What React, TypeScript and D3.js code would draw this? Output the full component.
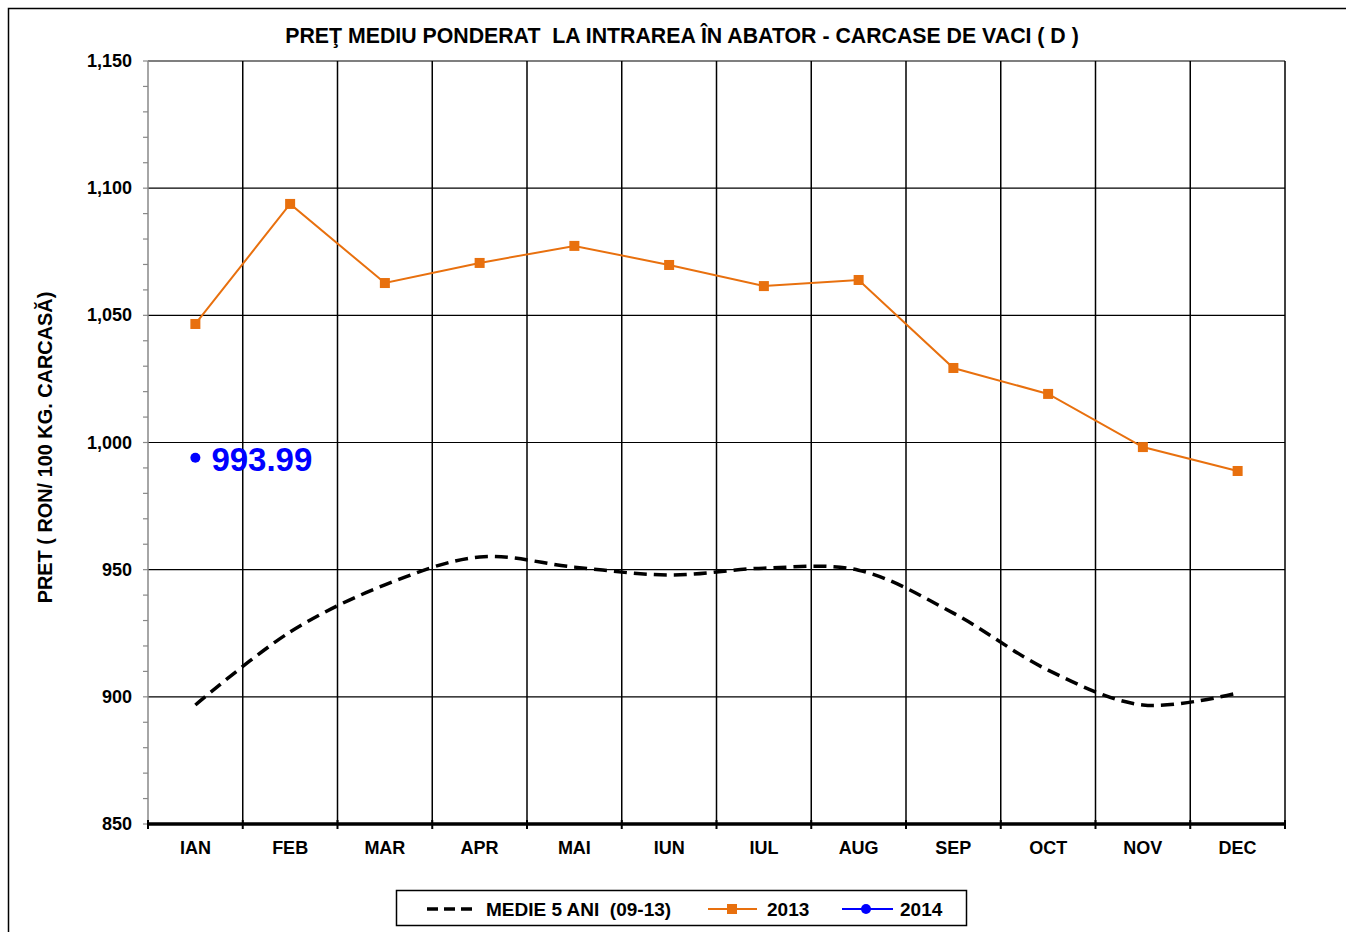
import React, { useEffect, useRef } from 'react';
import * as d3 from 'd3';

const months = ['IAN', 'FEB', 'MAR', 'APR', 'MAI', 'IUN', 'IUL', 'AUG', 'SEP', 'OCT', 'NOV', 'DEC'];
const medie5 = [896.8, 925.5, 944, 955, 951, 947.9, 950.6, 949.8, 932.9, 910.5, 896.8, 901.5];
const val2013 = [1046.6, 1093.8, 1062.7, 1070.6, 1077.3, 1069.8, 1061.5, 1063.9, 1029.3, 1019.1, 998.2, 988.8];
const val2014 = [993.99];
const yTicks = [850, 900, 950, 1000, 1050, 1100, 1150];

const FONT = '"Liberation Sans", Arial, sans-serif';

export default function App() {
  const ref = useRef<SVGSVGElement>(null);

  useEffect(() => {
    const W = 1346, H = 932;
    const m = { left: 148, right: 61, top: 61, bottom: 108 };
    const width = W - m.left - m.right;
    const height = H - m.top - m.bottom;

    const svg = d3.select(ref.current);
    svg.selectAll('*').remove();
    svg.attr('width', W).attr('height', H);

    // outer frame
    svg.append('rect')
      .attr('x', 8.5).attr('y', 8.5).attr('width', W + 10).attr('height', H + 10)
      .attr('fill', 'white').attr('stroke', '#000').attr('stroke-width', 1.5);

    svg.append('text')
      .attr('x', 682).attr('y', 43)
      .attr('text-anchor', 'middle')
      .style('white-space', 'pre')
      .style('font-family', FONT).style('font-weight', 'bold').style('font-size', '21.3px')
      .text('PREŢ MEDIU PONDERAT  LA INTRAREA ÎN ABATOR - CARCASE DE VACI ( D )');

    const g = svg.append('g').attr('transform', `translate(${m.left},${m.top})`);

    const x = d3.scaleBand().domain(months).range([0, width]);
    const y = d3.scaleLinear().domain([850, 1150]).range([height, 0]);
    const cx = (i: number) => (x(months[i]) as number) + x.bandwidth() / 2;

    // horizontal gridlines
    g.selectAll('.hg').data(yTicks.slice(1)).enter().append('line')
      .attr('x1', 0).attr('x2', width)
      .attr('y1', d => y(d)).attr('y2', d => y(d))
      .attr('stroke', '#000').attr('stroke-width', 1.2);

    // vertical gridlines at band boundaries
    const bounds = months.map(d => x(d) as number).concat([width]);
    g.selectAll('.vg').data(bounds.slice(1)).enter().append('line')
      .attr('x1', d => d).attr('x2', d => d)
      .attr('y1', 0).attr('y2', height)
      .attr('stroke', '#000').attr('stroke-width', 1.5);

    // left axis (gray) with minor ticks
    g.append('line').attr('x1', 0).attr('x2', 0).attr('y1', 0).attr('y2', height)
      .attr('stroke', '#888').attr('stroke-width', 1.5);
    g.selectAll('.mt').data(d3.range(850, 1151, 10)).enter().append('line')
      .attr('x1', -5).attr('x2', 0)
      .attr('y1', d => y(d)).attr('y2', d => y(d))
      .attr('stroke', '#888').attr('stroke-width', 1.2);

    g.selectAll('.yl').data(yTicks).enter().append('text')
      .attr('x', -16).attr('y', d => y(d) + 6)
      .attr('text-anchor', 'end')
      .style('font-family', FONT).style('font-weight', 'bold').style('font-size', '18px')
      .text(d => d3.format(',')(d));

    // bottom axis
    g.append('line').attr('x1', 0).attr('x2', width).attr('y1', height).attr('y2', height)
      .attr('stroke', '#000').attr('stroke-width', 3.5);
    g.selectAll('.xt').data(bounds).enter().append('line')
      .attr('x1', d => d).attr('x2', d => d)
      .attr('y1', height - 4).attr('y2', height + 5)
      .attr('stroke', '#000').attr('stroke-width', 2);
    g.selectAll('.xl').data(months).enter().append('text')
      .attr('x', (d, i) => cx(i)).attr('y', height + 30)
      .attr('text-anchor', 'middle')
      .style('font-family', FONT).style('font-weight', 'bold').style('font-size', '18px')
      .text(d => d);

    // y axis title
    svg.append('text')
      .attr('transform', `translate(52,447.5) rotate(-90)`)
      .attr('text-anchor', 'middle')
      .style('font-family', FONT).style('font-weight', 'bold').style('font-size', '19.9px')
      .text('PRET ( RON/ 100 KG. CARCASĂ)');

    // 5-year average, smoothed dashed line
    const lineSmooth = d3.line<number>().x((d, i) => cx(i)).y(d => y(d)).curve(d3.curveCatmullRom.alpha(0.5));
    g.append('path').datum(medie5)
      .attr('d', lineSmooth)
      .attr('fill', 'none').attr('stroke', '#000').attr('stroke-width', 3.5)
      .attr('stroke-dasharray', '13,7');

    // 2013
    const line = d3.line<number>().x((d, i) => cx(i)).y(d => y(d));
    g.append('path').datum(val2013)
      .attr('d', line)
      .attr('fill', 'none').attr('stroke', '#E8700E').attr('stroke-width', 2);
    g.selectAll('.sq').data(val2013).enter().append('rect')
      .attr('x', (d, i) => cx(i) - 5).attr('y', d => y(d) - 5)
      .attr('width', 10).attr('height', 10)
      .attr('fill', '#E8700E');

    // 2014
    g.selectAll('.dot').data(val2014).enter().append('circle')
      .attr('cx', (d, i) => cx(i)).attr('cy', d => y(d)).attr('r', 5)
      .attr('fill', '#0000FF');
    g.selectAll('.dl').data(val2014).enter().append('text')
      .attr('x', (d, i) => cx(i) + 16).attr('y', d => y(d) + 13)
      .attr('fill', '#0000FF')
      .style('font-family', FONT).style('font-weight', 'bold').style('font-size', '33px')
      .text(d => d3.format('.2f')(d));

    // legend
    const lg = svg.append('g').attr('transform', 'translate(396,890)');
    lg.append('rect').attr('x', 0.5).attr('y', 0.5).attr('width', 570).attr('height', 35)
      .attr('fill', 'white').attr('stroke', '#000').attr('stroke-width', 1.5);
    const ly = 19;
    const lt = (xp: number, t: string) => lg.append('text').attr('x', xp).attr('y', ly + 7)
      .style('white-space', 'pre')
      .style('font-family', FONT).style('font-weight', 'bold').style('font-size', '19px').text(t);
    lg.append('line').attr('x1', 31).attr('x2', 79).attr('y1', ly).attr('y2', ly)
      .attr('stroke', '#000').attr('stroke-width', 3.5).attr('stroke-dasharray', '11,6');
    lt(90, 'MEDIE 5 ANI  (09-13)');
    lg.append('line').attr('x1', 312).attr('x2', 361).attr('y1', ly).attr('y2', ly)
      .attr('stroke', '#E8700E').attr('stroke-width', 2);
    lg.append('rect').attr('x', 331).attr('y', ly - 5).attr('width', 10).attr('height', 10).attr('fill', '#E8700E');
    lt(371, '2013');
    lg.append('line').attr('x1', 446).attr('x2', 497).attr('y1', ly).attr('y2', ly)
      .attr('stroke', '#0000FF').attr('stroke-width', 2);
    lg.append('circle').attr('cx', 470).attr('cy', ly).attr('r', 5).attr('fill', '#0000FF');
    lt(504, '2014');
  }, []);

  return <svg ref={ref} style={{ position: 'absolute', left: 0, top: 0 }} />;
}
